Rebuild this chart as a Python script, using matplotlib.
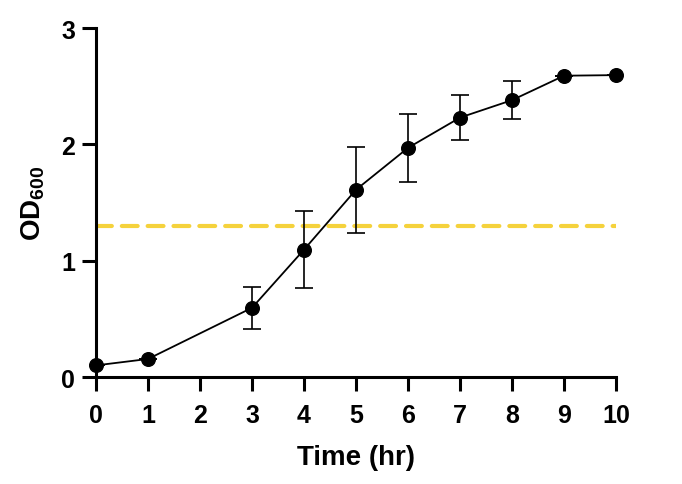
#Modules
import matplotlib
matplotlib.use("Agg")
import matplotlib.pyplot as plt

#Font setup (bold Arial-like look)
plt.rcParams['font.family'] = ['Liberation Sans', 'DejaVu Sans']
plt.rcParams['font.weight'] = 'bold'
plt.rcParams['mathtext.fontset'] = 'custom'
plt.rcParams['mathtext.bf'] = 'Liberation Sans:bold'
plt.rcParams['mathtext.rm'] = 'Liberation Sans:bold'

#Growth curve data
time_hr = [0, 1, 3, 4, 5, 6, 7, 8, 9, 10]
od600 = [0.10, 0.155, 0.595, 1.095, 1.61, 1.97, 2.23, 2.38, 2.59, 2.595]
od_sd = [0, 0, 0.18, 0.33, 0.37, 0.29, 0.19, 0.165, 0, 0]
threshold = 1.30
x_ticks = [0, 1, 2, 3, 4, 5, 6, 7, 8, 9, 10]
y_ticks = [0, 1, 2, 3]

#Figure and axes placement
fig = plt.figure(figsize=(6.82, 4.85), dpi=100)
ax = fig.add_axes([0.1408, 0.2206, 0.7625, 0.7196])

#Threshold line
ax.plot([time_hr[0], time_hr[-1]], [threshold, threshold], color='#F5D23C',
        linewidth=3, linestyle=(0, (3.8, 2.4)), dash_capstyle='round', zorder=1)

#Error bars and curve
ax.errorbar(time_hr, od600, yerr=od_sd, fmt='none', ecolor='black',
            elinewidth=1.2, capsize=6.5, capthick=1.2, zorder=2)
ax.plot(time_hr, od600, color='black', linewidth=1.3, marker='o',
        markersize=9.8, clip_on=False, zorder=4)

#Axis ranges and ticks
ax.set_xlim(0, 10)
ax.set_ylim(0, 3)
ax.set_xticks(x_ticks)
ax.set_yticks(y_ticks)
ax.tick_params(axis='both', width=2.2, length=10, labelsize=18)
ax.tick_params(axis='x', pad=9)
ax.tick_params(axis='y', pad=5)

#Spines
for side in ['top', 'right']:
    ax.spines[side].set_visible(False)
for side in ['left', 'bottom']:
    ax.spines[side].set_linewidth(2.2)

#Labels
ax.set_xlabel("Time (hr)", fontsize=20, fontweight='bold', labelpad=12)
ax.set_ylabel(r"$\mathbf{OD_{600}}$", fontsize=20, labelpad=10)

#Save figure
fig.savefig("out.png", dpi=100)
